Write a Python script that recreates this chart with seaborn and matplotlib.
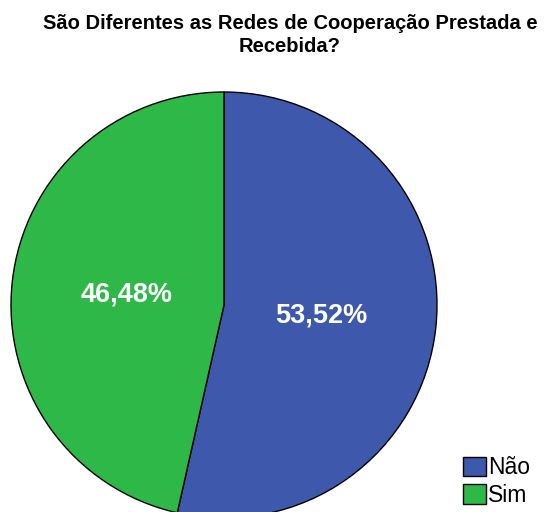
import matplotlib
matplotlib.use('Agg')
import matplotlib.pyplot as plt
import seaborn as sns

# Data
categories = ['Não', 'Sim']
percentages = [53.52, 46.48]
colors = ['#3E58AC', '#2EB848']

sns.set_theme(style='white')
plt.rcParams['font.family'] = ['Liberation Sans', 'DejaVu Sans']
plt.rcParams['text.color'] = 'black'

fig = plt.figure(figsize=(5.45, 5.12), dpi=100)
fig.patch.set_facecolor('white')

# Pie axes placed so the circle sits where it does in the reference
cx, cy, r = 224, 305, 213
ax = fig.add_axes([(cx - r) / 545, (512 - cy - r) / 512, 2 * r / 545, 2 * r / 512])

wedges, texts, autotexts = ax.pie(
    percentages,
    colors=colors,
    startangle=90,
    counterclock=False,
    autopct=lambda p: f'{p:.2f}%'.replace('.', ','),
    pctdistance=0.46,
    wedgeprops={'edgecolor': 'black', 'linewidth': 1.0},
    textprops={'color': 'white', 'fontsize': 19.5, 'fontweight': 'bold'},
)
ax.set_xlim(-1, 1)
ax.set_ylim(-1, 1)
ax.axis('off')

fig.text(290 / 545, 1 - 14 / 512,
         'São Diferentes as Redes de Cooperação Prestada e\nRecebida?',
         ha='center', va='top', fontsize=14.5, fontweight='bold',
         linespacing=1.3, color='black')

leg = fig.legend(wedges, categories, loc='lower left',
                 bbox_to_anchor=(463 / 545, 5 / 512), frameon=False,
                 fontsize=16.5, handlelength=1.0, handleheight=0.95,
                 handletextpad=0.1, labelspacing=0.2, borderpad=0,
                 borderaxespad=0, labelcolor='black')

plt.savefig('out.png', dpi=100)
